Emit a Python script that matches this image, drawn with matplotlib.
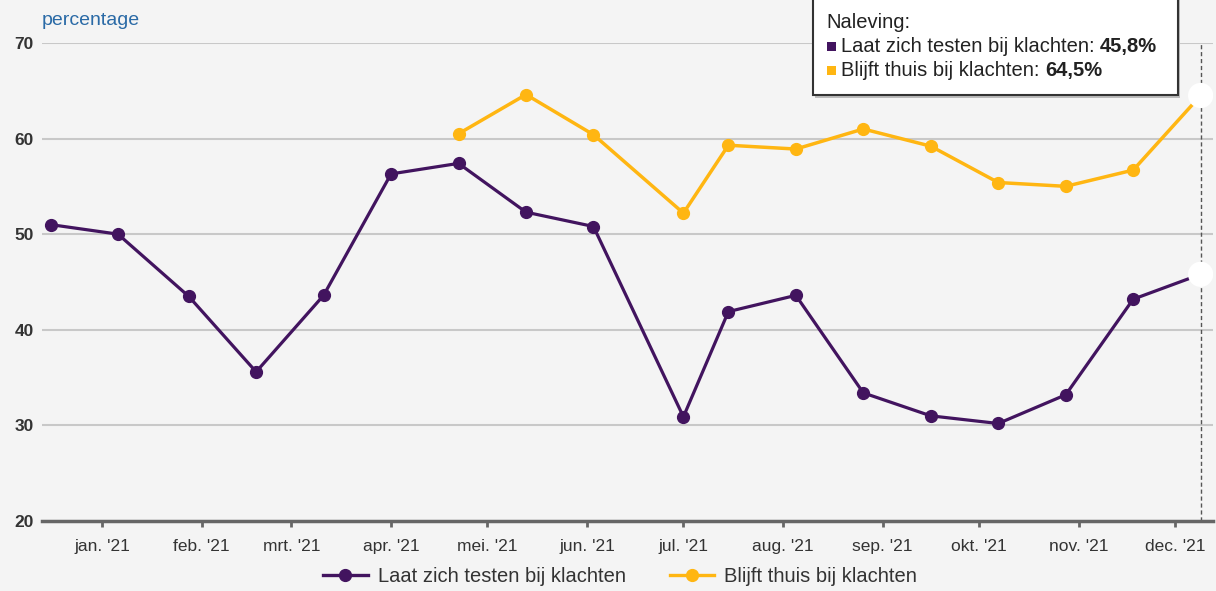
import numpy as np
import pandas as pd
import matplotlib
matplotlib.use('Agg')
import matplotlib.pyplot as plt
from matplotlib.patches import Rectangle
from matplotlib.lines import Line2D

plt.rcParams['font.family'] = ['Liberation Sans', 'DejaVu Sans']

# Data
dates_test = pd.to_datetime([
    '2020-12-16', '2021-01-06', '2021-01-28', '2021-02-18', '2021-03-11',
    '2021-04-01', '2021-04-22', '2021-05-13', '2021-06-03', '2021-07-01',
    '2021-07-15', '2021-08-05', '2021-08-26', '2021-09-16', '2021-10-07',
    '2021-10-28', '2021-11-18', '2021-12-09'])
testen = [51.0, 50.0, 43.5, 35.6, 43.6, 56.3, 57.4, 52.3, 50.8, 30.9,
          41.9, 43.6, 33.4, 31.0, 30.2, 33.2, 43.2, 45.8]

dates_thuis = dates_test[6:]
thuis = [60.5, 64.6, 60.4, 52.2, 59.3, 58.9, 61.0, 59.2, 55.4, 55.0, 56.7, 64.5]

month_labels = ["jan. '21", "feb. '21", "mrt. '21", "apr. '21", "mei. '21", "jun. '21",
                "jul. '21", "aug. '21", "sep. '21", "okt. '21", "nov. '21", "dec. '21"]
month_ticks = pd.date_range('2021-01-01', periods=12, freq='MS')

label_testen = 'Laat zich testen bij klachten'
label_thuis = 'Blijft thuis bij klachten'

PURPLE = '#42145f'
YELLOW = '#ffb612'
BG = '#f4f4f4'

fig = plt.figure(figsize=(12.16, 5.91), dpi=100, facecolor=BG)
ax = fig.add_axes([0.0345, 0.1184, 0.963, 0.809], facecolor=BG)

ax.plot(dates_test[:-1], testen[:-1], color=PURPLE, lw=2.3, marker='o', ms=8.5,
        zorder=3)
ax.plot(dates_test[-2:], testen[-2:], color=PURPLE, lw=2.3, zorder=3)
ax.plot(dates_thuis[:-1], thuis[:-1], color=YELLOW, lw=2.5, marker='o', ms=8.5,
        zorder=3)
ax.plot(dates_thuis[-2:], thuis[-2:], color=YELLOW, lw=2.5, zorder=3)

# hover highlight
ax.axvline(dates_test[-1], color='#555555', lw=1.0, ls=(0, (3, 2)), zorder=2)
ax.scatter([dates_test[-1], dates_thuis[-1]], [testen[-1], thuis[-1]], s=330,
           color='white', zorder=5, edgecolors='none')

ax.set_ylim(20, 70)
ax.set_xlim(pd.Timestamp('2020-12-13 08:00'), pd.Timestamp('2021-12-12 20:00'))
ax.set_yticks([20, 30, 40, 50, 60, 70])
ax.grid(axis='y', color='#c8c8c8', lw=1.5)
ax.set_axisbelow(True)

ax.set_xticks(month_ticks)
ax.set_xticklabels(month_labels)
ax.tick_params(axis='x', length=4, width=2, color='#666666', labelsize=12.5,
               labelcolor='#333333', pad=9)
ax.tick_params(axis='y', length=0, labelsize=12.5, labelcolor='#333333', pad=6)
for lbl in ax.get_yticklabels():
    lbl.set_fontweight('bold')

for s in ['top', 'right', 'left']:
    ax.spines[s].set_visible(False)
ax.spines['bottom'].set_color('#666666')
ax.spines['bottom'].set_linewidth(2.5)

fig.text(0.0345, 0.957, 'percentage', color='#2a6aa6', fontsize=14,
         ha='left', va='baseline')

# legend
handles = [Line2D([], [], color=PURPLE, lw=2.4, marker='o', ms=8.5),
           Line2D([], [], color=YELLOW, lw=2.4, marker='o', ms=8.5)]
fig.legend(handles, [label_testen, label_thuis], loc='center', ncol=2,
           bbox_to_anchor=(0.51, 0.024), frameon=False, fontsize=14.5,
           handlelength=2.2, columnspacing=2.2, handletextpad=0.5,
           labelcolor='#333333')

# tooltip box
W, H = 1216, 591
fig.patches.append(Rectangle((813 / W + 0.002, 1 - 98 / H), 365 / W, 110 / H,
                             transform=fig.transFigure, facecolor='#bbbbbb',
                             edgecolor='none', zorder=6))
fig.patches.append(Rectangle((813 / W, 1 - 95 / H), 365 / W, 110 / H,
                             transform=fig.transFigure, facecolor='white',
                             edgecolor='#333333', lw=1.5, zorder=7))
fig.text(826 / W, 1 - 28 / H, 'Naleving:', fontsize=14.5, color='#222222',
         va='baseline', zorder=8)
rows = [(PURPLE, label_testen, '45,8%', 52), (YELLOW, label_thuis, '64,5%', 76)]
fig.canvas.draw()
for col, lab, val, yb in rows:
    fig.patches.append(Rectangle((827 / W, 1 - (yb - 1) / H), 9 / W, 9 / H,
                                 transform=fig.transFigure, facecolor=col,
                                 edgecolor='none', zorder=8))
    t = fig.text(841 / W, 1 - yb / H, lab + ': ', fontsize=14.5, color='#222222',
                 va='baseline', zorder=8)
    fig.canvas.draw()
    bb = t.get_window_extent()
    fig.text(bb.x1 / W, 1 - yb / H, val, fontsize=14.5, color='#222222',
             fontweight='bold', va='baseline', zorder=8)

fig.savefig('out.png', dpi=100, facecolor=BG)
